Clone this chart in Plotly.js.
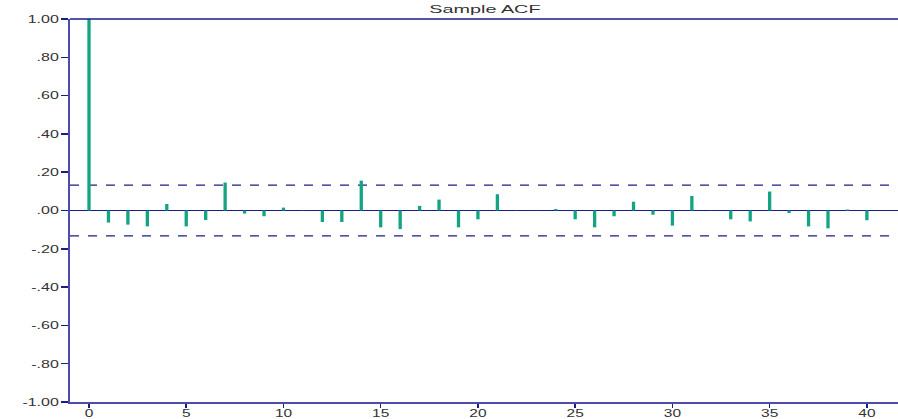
<!DOCTYPE html>
<html>
<head>
<meta charset="utf-8">
<script src="https://cdn.plot.ly/plotly-3.0.1.min.js"></script>
<style>html,body{margin:0;padding:0;background:#fff;}#chart{width:898px;height:419px;}</style>
</head>
<body>
<div id="chart"></div>
<script>
const lags = [0,1,2,3,4,5,6,7,8,9,10,11,12,13,14,15,16,17,18,19,20,21,22,23,24,25,26,27,28,29,30,31,32,33,34,35,36,37,38,39,40];
const acf = [1.00,-0.063,-0.074,-0.083,0.034,-0.083,-0.050,0.146,-0.016,-0.030,0.015,
             0.001,-0.060,-0.060,0.156,-0.088,-0.097,0.024,0.057,-0.088,-0.046,0.085,
             0.001,-0.001,0.008,-0.046,-0.088,-0.030,0.046,-0.022,-0.079,0.076,
             0.001,-0.046,-0.057,0.099,-0.013,-0.083,-0.093,0.005,-0.051];
const confBand = [0.133, -0.133];
const yTickVals = [-1,-0.8,-0.6,-0.4,-0.2,0,0.2,0.4,0.6,0.8,1];
const yTickText = ['-1.00','-.80','-.60','-.40','-.20','.00','.20','.40','.60','.80','1.00'];
const xTickVals = [0,5,10,15,20,25,30,35,40];

const navy = '#1c1c85';
const axisCol = '#4b4bb0';
const fontFam = 'Liberation Sans, Arial, sans-serif';

const shapes = confBand.map(v => ({
  type:'line', xref:'paper', yref:'y', x0:0, x1:1, y0:v, y1:v,
  line:{color:navy, width:1.2, dash:'dash'}, layer:'below'
}));
shapes.push({type:'line', xref:'paper', yref:'paper', x0:0, x1:1, y0:1, y1:1,
  line:{color:navy, width:1.5}});

Plotly.newPlot('chart', [{
  type:'bar', x:lags, y:acf, width:0.17,
  marker:{color:'#14a383', line:{width:0}},
  hoverinfo:'x+y'
}], {
  width:898, height:419,
  margin:{l:70, r:0, t:19, b:17},
  paper_bgcolor:'#fff', plot_bgcolor:'#fff',
  showlegend:false,
  title:{text:'Sample ACF', font:{family:fontFam, size:11, color:'#333'}, x:0.54, xanchor:'center', y:0.988, yanchor:'top'},
  xaxis:{range:[-0.977,41.6], tickvals:xTickVals, ticks:'outside', ticklen:4, tickwidth:1.5, tickcolor:navy,
    ticklabelstandoff:-3,
    showgrid:false, zeroline:false, showline:true, linecolor:axisCol, linewidth:2,
    tickfont:{family:fontFam, size:10, color:'#333'}, fixedrange:true},
  yaxis:{range:[-1,1], tickvals:yTickVals, ticktext:yTickText, ticks:'outside', ticklen:7, tickwidth:1.5, tickcolor:navy,
    showgrid:false, zeroline:true, zerolinecolor:navy, zerolinewidth:1.5, showline:true, linecolor:axisCol, linewidth:2,
    tickfont:{family:fontFam, size:11, color:'#333'}, fixedrange:true},
  shapes:shapes
}, {displayModeBar:false, staticPlot:true}).then(() => {
  const stretch = (sel, f) => document.querySelectorAll(sel).forEach(t => {
    const L = t.getComputedTextLength();
    if (L > 0) { t.setAttribute('textLength', (L * f).toFixed(1)); t.setAttribute('lengthAdjust', 'spacingAndGlyphs'); }
  });
  stretch('.xtick text', 1.55);
  stretch('.ytick text', 1.45);
  stretch('.gtitle', 1.8);
});
</script>
</body>
</html>
